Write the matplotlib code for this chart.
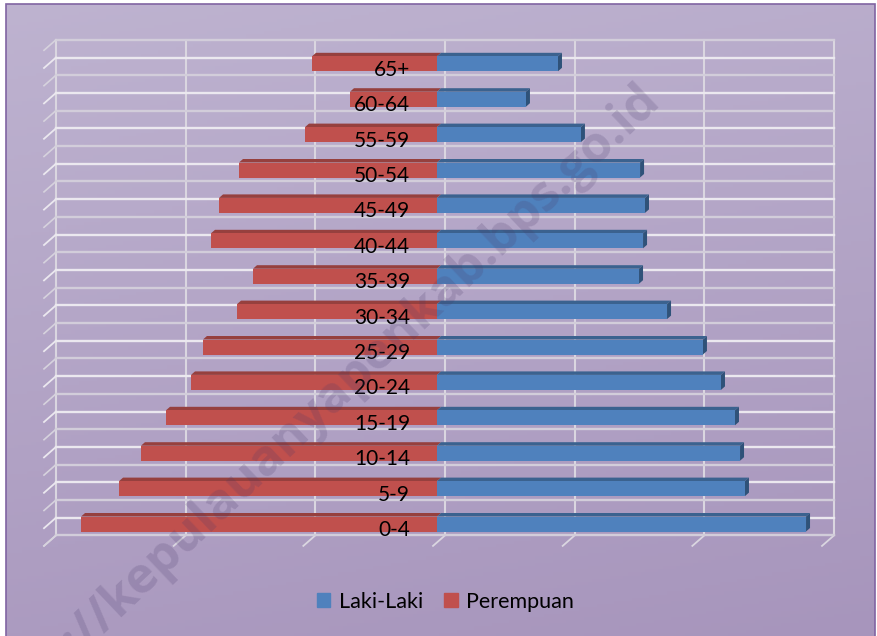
import numpy as np
import matplotlib
matplotlib.use('Agg')
import matplotlib.pyplot as plt
from matplotlib.patches import Patch, Rectangle

plt.rcParams['font.family'] = ['Lato', 'DejaVu Sans']

kelompok = ['0-4', '5-9', '10-14', '15-19', '20-24', '25-29', '30-34',
            '35-39', '40-44', '45-49', '50-54', '55-59', '60-64', '65+']
laki = [2846, 2375, 2337, 2298, 2190, 2051, 1774, 1558, 1589, 1604, 1566, 1110, 686, 933]
perempuan = [2745, 2452, 2283, 2090, 1897, 1805, 1542, 1419, 1743, 1681, 1527, 1018, 671, 964]
grid_nilai = [-3000, -2000, -1000, 0, 1000, 2000, 3000]

W, H = 877, 636
# pixel scale of the chart
px_x = 1000 / 129.67
px_y = 1 / 35.4
zero_px, base_px = 437, 524

fig = plt.figure(figsize=(W / 100, H / 100), dpi=100, facecolor='white')
ax = fig.add_axes([0, 0, 1, 1])
ax.axis('off')

# background with frame
t = np.linspace(0, 1, 200)
gx, gy = np.meshgrid(t, t)
g = (0.2 * gx + 0.8 * gy)[..., None]
warna1 = np.array([190, 179, 208]) / 255
warna2 = np.array([167, 149, 188]) / 255
bg = ax.imshow(warna1 + (warna2 - warna1) * g, extent=(0, 1, 0, 1), transform=ax.transAxes,
               aspect='auto', zorder=0)
frame = Rectangle((5.5 / W, -0.01), 869 / W, 1.01 - 3.5 / H, transform=ax.transAxes,
                  fc='none', ec='#8064A2', lw=1.2, zorder=1)
ax.add_patch(frame)
bg.set_clip_path(frame)

ax.set_xlim(-zero_px * px_x, (W - zero_px) * px_x)
ax.set_ylim((base_px - H) * px_y, base_px * px_y)

# back wall sits up and to the right of the bars
wall_dx, wall_dy = 8 * px_x, 6.3 * px_y
stub_dx, stub_dy = 12 * px_x, 10.5 * px_y
wall_left, wall_right = grid_nilai[0] + wall_dx, grid_nilai[-1] + wall_dx
n = len(kelompok)
wall_bottom, wall_top = -0.5 + wall_dy, n - 0.5 + wall_dy

for v in grid_nilai:
    ax.plot([v + wall_dx] * 2, [wall_bottom, wall_top], color='#DAD6E0', lw=1.5, zorder=2)
    ax.plot([v + wall_dx, v + wall_dx - stub_dx], [wall_bottom, wall_bottom - stub_dy],
            color='#DAD6E0', lw=1.3, zorder=2)

for i in range(n + 1):
    y = i - 0.5 + wall_dy
    ax.plot([wall_left, wall_right], [y, y], color='#D2CDDA', lw=1.7, zorder=2)
    ax.plot([wall_left, wall_left - stub_dx], [y, y - stub_dy], color='#D6D2DD', lw=1.2, zorder=2)
for i in range(n):
    y = i + wall_dy
    ax.plot([wall_left, wall_right], [y, y], color='#EBE8EF', lw=1.7, zorder=2)
    ax.plot([wall_left, wall_left - stub_dx], [y, y - stub_dy], color='#EBE8EF', lw=1.3, zorder=2)

# bars with their 3d top and side faces
pos = np.arange(n)
tinggi = 15 * px_y
tebal_x, tebal_y = 4 * px_x, 3.5 * px_y
ax.barh(pos, laki, height=tinggi, color='#4F81BD', zorder=4)
ax.barh(pos, [-v for v in perempuan], height=tinggi, color='#C0504D', zorder=4)
for i in pos:
    atas = i + tinggi / 2
    bawah = i - tinggi / 2
    ax.fill([-perempuan[i], 0, tebal_x, -perempuan[i] + tebal_x],
            [atas, atas, atas + tebal_y, atas + tebal_y], color='#96403E', lw=0, zorder=3)
    ax.fill([0, laki[i], laki[i] + tebal_x, tebal_x],
            [atas, atas, atas + tebal_y, atas + tebal_y], color='#3B628F', lw=0, zorder=3)
    ax.fill([laki[i], laki[i] + tebal_x, laki[i] + tebal_x, laki[i]],
            [bawah, bawah + tebal_y, atas + tebal_y, atas], color='#2F5279', lw=0, zorder=3)
    ax.text(-27 * px_x, i - 6 * px_y, kelompok[i], ha='right', va='center',
            fontsize=15, color='black', zorder=5)

# watermark
wm = ax.text(652 / W, 1 - 92 / H, 'http://kepulauanyapenkab.bps.go.id', transform=ax.transAxes,
             rotation=43.5, rotation_mode='anchor', ha='right', va='center', fontsize=36,
             fontweight='bold', family=['Open Sans', 'DejaVu Sans'], color='#4A3A6A', alpha=0.2, zorder=6)
wm.set_clip_path(frame)

handles = [Patch(color='#4F81BD', label='Laki-Laki'), Patch(color='#C0504D', label='Perempuan')]
ax.legend(handles=handles, ncol=2, frameon=False, loc='center', bbox_to_anchor=(445.5 / W, 1 - 602 / H),
          fontsize=15.5, handlelength=0.62, handleheight=0.62, handletextpad=0.4, columnspacing=1.0)

fig.savefig('out.png', dpi=100)
